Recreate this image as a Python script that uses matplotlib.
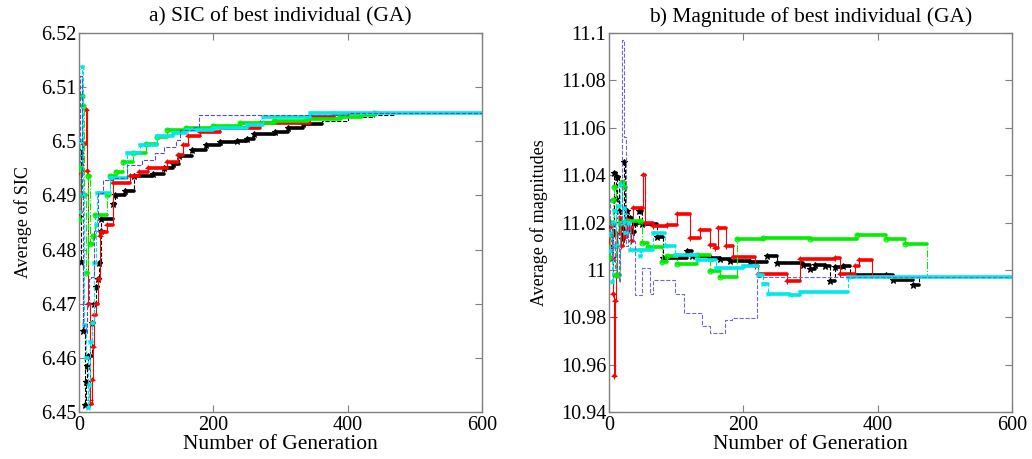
import matplotlib
matplotlib.use('Agg')
import matplotlib.pyplot as plt
from matplotlib.ticker import FuncFormatter, MultipleLocator

plt.rcParams['font.family'] = ['Liberation Serif', 'DejaVu Serif']

N_GEN = 600

# ---------------- a) SIC of best individual ----------------
black_a_gen = [0, 1, 3, 6, 9, 11, 12, 14, 19, 22, 25, 28, 30, 32, 33, 51, 53, 68, 82, 110,
               127, 140, 149, 169, 189, 210, 235, 250, 260, 292, 312, 334, 362, 400, 440, 470]
black_a_val = [6.486, 6.498, 6.4777, 6.465, 6.4513, 6.4555, 6.4585, 6.4603, 6.4665, 6.4700,
               6.4730, 6.4745, 6.4775, 6.4835, 6.4857, 6.4885, 6.4901, 6.4909, 6.4936, 6.4940,
               6.4951, 6.4958, 6.4972, 6.4984, 6.4993, 6.4998, 6.5001, 6.5005, 6.5013, 6.5018,
               6.5025, 6.5032, 6.5038, 6.5045, 6.5049, 6.5052]

red_a_gen = [0, 3, 6, 10, 12, 14, 16, 17, 19, 21, 23, 25, 28, 31, 33, 42, 51, 76, 90, 103,
             131, 148, 155, 163, 180, 210, 270, 344, 380, 420]
red_a_val = [6.487, 6.494, 6.4995, 6.5058, 6.4945, 6.4700, 6.4523, 6.4515, 6.4560, 6.4620,
             6.4680, 6.4700, 6.4745, 6.4825, 6.4832, 6.4845, 6.4923, 6.4935, 6.4944, 6.4950,
             6.4962, 6.4975, 6.4993, 6.5009, 6.5018, 6.5024, 6.5033, 6.5045, 6.5050, 6.5052]

green_a_gen = [0, 2, 4, 6, 8, 10, 13, 16, 21, 24, 41, 46, 55, 66, 81, 100, 116, 131, 160,
               200, 240, 290, 340, 389, 420, 440]
green_a_val = [6.4855, 6.495, 6.5083, 6.5065, 6.490, 6.4757, 6.4935, 6.4810, 6.4825, 6.4864,
               6.4900, 6.4935, 6.4943, 6.4962, 6.4978, 6.4995, 6.5008, 6.5020, 6.5025, 6.5029,
               6.5033, 6.5037, 6.5042, 6.5045, 6.5049, 6.5052]

cyan_a_gen = [0, 2, 4, 6, 8, 10, 13, 15, 17, 20, 23, 25, 27, 46, 71, 91, 116, 140, 160,
              200, 250, 274, 344]
cyan_a_val = [6.487, 6.500, 6.5138, 6.490, 6.466, 6.460, 6.4507, 6.455, 6.463, 6.4665,
              6.4775, 6.4845, 6.4904, 6.4932, 6.4978, 6.4993, 6.5010, 6.5016, 6.5020, 6.5024,
              6.5030, 6.5044, 6.5052]

blue_a_gen = [0, 2, 4, 6, 8, 10, 12, 15, 18, 22, 28, 36, 50, 72, 94, 113, 127, 145, 151,
              171, 179, 400]
blue_a_val = [6.500, 6.512, 6.490, 6.466, 6.4655, 6.4645, 6.470, 6.4745, 6.475, 6.4835,
              6.4905, 6.4929, 6.4932, 6.4956, 6.4965, 6.4978, 6.4990, 6.5002, 6.5021, 6.5027,
              6.5049, 6.5052]

# ---------------- b) Magnitude of best individual ----------------
black_b_gen = [0, 2, 4, 6, 8, 10, 12, 15, 17, 19, 22, 24, 27, 29, 31, 34, 38, 44, 49, 71,
               81, 116, 123, 150, 165, 180, 210, 235, 250, 289, 299, 307, 322, 329, 337, 349,
               359, 413, 423, 453, 461]
black_b_val = [11.010, 11.020, 11.005, 11.015, 11.041, 11.030, 11.039, 11.025, 11.020, 11.013,
               11.0455, 11.015, 11.025, 11.017, 11.022, 11.016, 11.020, 11.0247, 11.0195,
               11.0139, 11.0050, 11.0080, 11.0057, 11.0050, 11.0045, 11.0036, 11.0032, 11.0057,
               11.0030, 11.0022, 11.0004, 11.0020, 11.0015, 10.9952, 11.0011, 11.0015, 10.9980,
               10.9978, 10.9959, 10.9938, 10.997]

red_b_gen = [0, 2, 4, 6, 7, 8, 9, 10, 12, 15, 18, 21, 24, 27, 30, 33, 36, 50, 53, 66, 86,
             101, 121, 135, 150, 158, 163, 174, 185, 217, 222, 265, 285, 336, 344, 366, 372,
             391, 420]
red_b_val = [11.012, 11.018, 11.005, 10.990, 10.980, 10.955, 10.987, 10.998, 11.015, 11.022,
             11.010, 11.020, 11.014, 11.021, 11.018, 11.012, 11.026, 11.040, 11.0198, 11.0185,
             11.0188, 11.0235, 11.0135, 11.0170, 11.0107, 11.0093, 11.0177, 11.0099, 11.0055,
             11.0015, 10.9983, 10.9955, 11.0046, 11.0050, 10.9984, 11.0015, 11.0043, 10.9980,
             10.997]

green_b_gen = [0, 2, 4, 6, 8, 10, 11, 14, 16, 19, 23, 26, 46, 49, 58, 79, 86, 101, 131, 150,
               165, 190, 230, 300, 369, 413, 441, 473]
green_b_val = [11.005, 11.015, 11.020, 11.0296, 11.035, 11.010, 10.998, 10.998, 11.020,
               11.037, 11.035, 11.0205, 11.0205, 11.0113, 11.0098, 11.0035, 11.0057, 11.0026,
               11.0064, 10.9995, 10.9969, 11.0130, 11.0135, 11.0132, 11.0149, 11.0130, 11.0110,
               10.997]

cyan_b_gen = [0, 2, 4, 6, 8, 10, 13, 16, 20, 22, 24, 28, 31, 46, 48, 66, 83, 98, 131, 160,
              200, 222, 230, 237, 270, 285, 356]
cyan_b_val = [11.015, 11.008, 10.995, 11.020, 11.025, 11.010, 11.027, 11.036, 11.020, 11.026,
              11.0156, 11.020, 11.0084, 11.006, 11.0084, 11.0156, 11.0100, 11.0064, 11.0043,
              11.0010, 11.0015, 10.9980, 10.9942, 10.9900, 10.9895, 10.9905, 10.997]

blue_b_gen = [0, 2, 4, 6, 9, 12, 15, 17, 19, 20, 23, 25, 28, 31, 36, 39, 49, 61, 66, 98,
              111, 138, 150, 173, 183, 220]
blue_b_val = [11.030, 11.015, 11.005, 11.020, 11.000, 11.010, 10.995, 11.020, 11.084, 11.097,
              11.056, 11.010, 11.018, 11.015, 11.012, 10.9894, 11.0010, 10.9900, 10.9957,
              10.9900, 10.9818, 10.9763, 10.9734, 10.9790, 10.9797, 10.997]

fig = plt.figure(figsize=(10.32, 4.59), dpi=100)
ax1 = fig.add_axes([0.0766, 0.1024, 0.3902, 0.8257])
ax2 = fig.add_axes([0.5901, 0.1024, 0.3905, 0.8257])


def draw(ax, gens, vals, color, ls, marker=None, mend=0, ms=4, mfc=None, z=2):
    x = list(gens) + [N_GEN]
    y = list(vals) + [vals[-1]]
    ax.plot(x, y, drawstyle='steps-post', color=color, ls=ls, lw=0.8, zorder=z)
    if mend > 0:
        ys, x0s, x1s = [], [], []
        for i in range(len(gens)):
            g0 = x[i]
            g1 = min(x[i + 1], mend)
            if g0 < mend:
                ys.append(vals[i]); x0s.append(g0); x1s.append(g1)
        lc = ax.hlines(ys, x0s, x1s, colors=color, linewidth=2.6, zorder=z)
        lc.set_capstyle('round')
        mg = [g for g in gens if g < mend]
        mv = [v for g, v in zip(gens, vals) if g < mend]
        ax.plot(mg, mv, ls='none', marker=marker, ms=ms, color=color,
                mfc=(mfc if mfc is not None else color), mew=0.8, zorder=z)


# panel a
draw(ax1, black_a_gen, black_a_val, 'black', '--', '*', 362, 5, z=2)
draw(ax1, red_a_gen, red_a_val, 'red', '-', '+', 400, 5, z=3)
draw(ax1, green_a_gen, green_a_val, '#00ee00', '-.', 'o', 445, 3.5, mfc='none', z=4)
draw(ax1, cyan_a_gen, cyan_a_val, '#00e8e8', '--', 'x', N_GEN + 1, 3.5, z=5)
draw(ax1, blue_a_gen, blue_a_val, '#5050c8', '--', z=6)

# panel b
draw(ax2, black_b_gen, black_b_val, 'black', '--', '*', 461, 5, z=2)
draw(ax2, red_b_gen, red_b_val, 'red', '-', '+', 392, 5, z=3)
draw(ax2, green_b_gen, green_b_val, '#00ee00', '-.', 'o', 473, 3.5, mfc='none', z=4)
draw(ax2, cyan_b_gen, cyan_b_val, '#00e8e8', '--', 'x', N_GEN + 1, 3.5, z=5)
draw(ax2, blue_b_gen, blue_b_val, '#6a6ad0', '--', z=6)

fmt = FuncFormatter(lambda v, p: f'{round(v, 4):g}')
for ax, (lo, hi, step) in ((ax1, (6.45, 6.52, 0.01)), (ax2, (10.94, 11.1, 0.02))):
    ax.set_xlim(0, N_GEN)
    ax.set_ylim(lo, hi)
    ax.xaxis.set_major_locator(MultipleLocator(200))
    ax.yaxis.set_major_locator(MultipleLocator(step))
    ax.yaxis.set_major_formatter(fmt)
    ax.tick_params(direction='in', top=True, right=True, length=5, width=0.8,
                   color='#808080', labelsize=14.5, labelcolor='black')
    ax.tick_params(axis='y', pad=2)
    ax.tick_params(axis='x', pad=3)
    for s in ax.spines.values():
        s.set_color('#808080')
        s.set_linewidth(1.0)
    ax.set_xlabel('Number of Generation', fontsize=15.5)
    ax.xaxis.set_label_coords(0.5, -0.062)

ax1.set_title('a) SIC of best individual (GA)', fontsize=15.5, pad=8)
ax2.set_title('b) Magnitude of best individual (GA)', fontsize=15.5, pad=8)
ax1.set_ylabel('Average of SIC', fontsize=13)
ax2.set_ylabel('Average of magnitudes', fontsize=13)
ax1.yaxis.set_label_coords(-0.117, 0.5)
ax2.yaxis.set_label_coords(-0.152, 0.5)

fig.savefig('out.png', dpi=100)
